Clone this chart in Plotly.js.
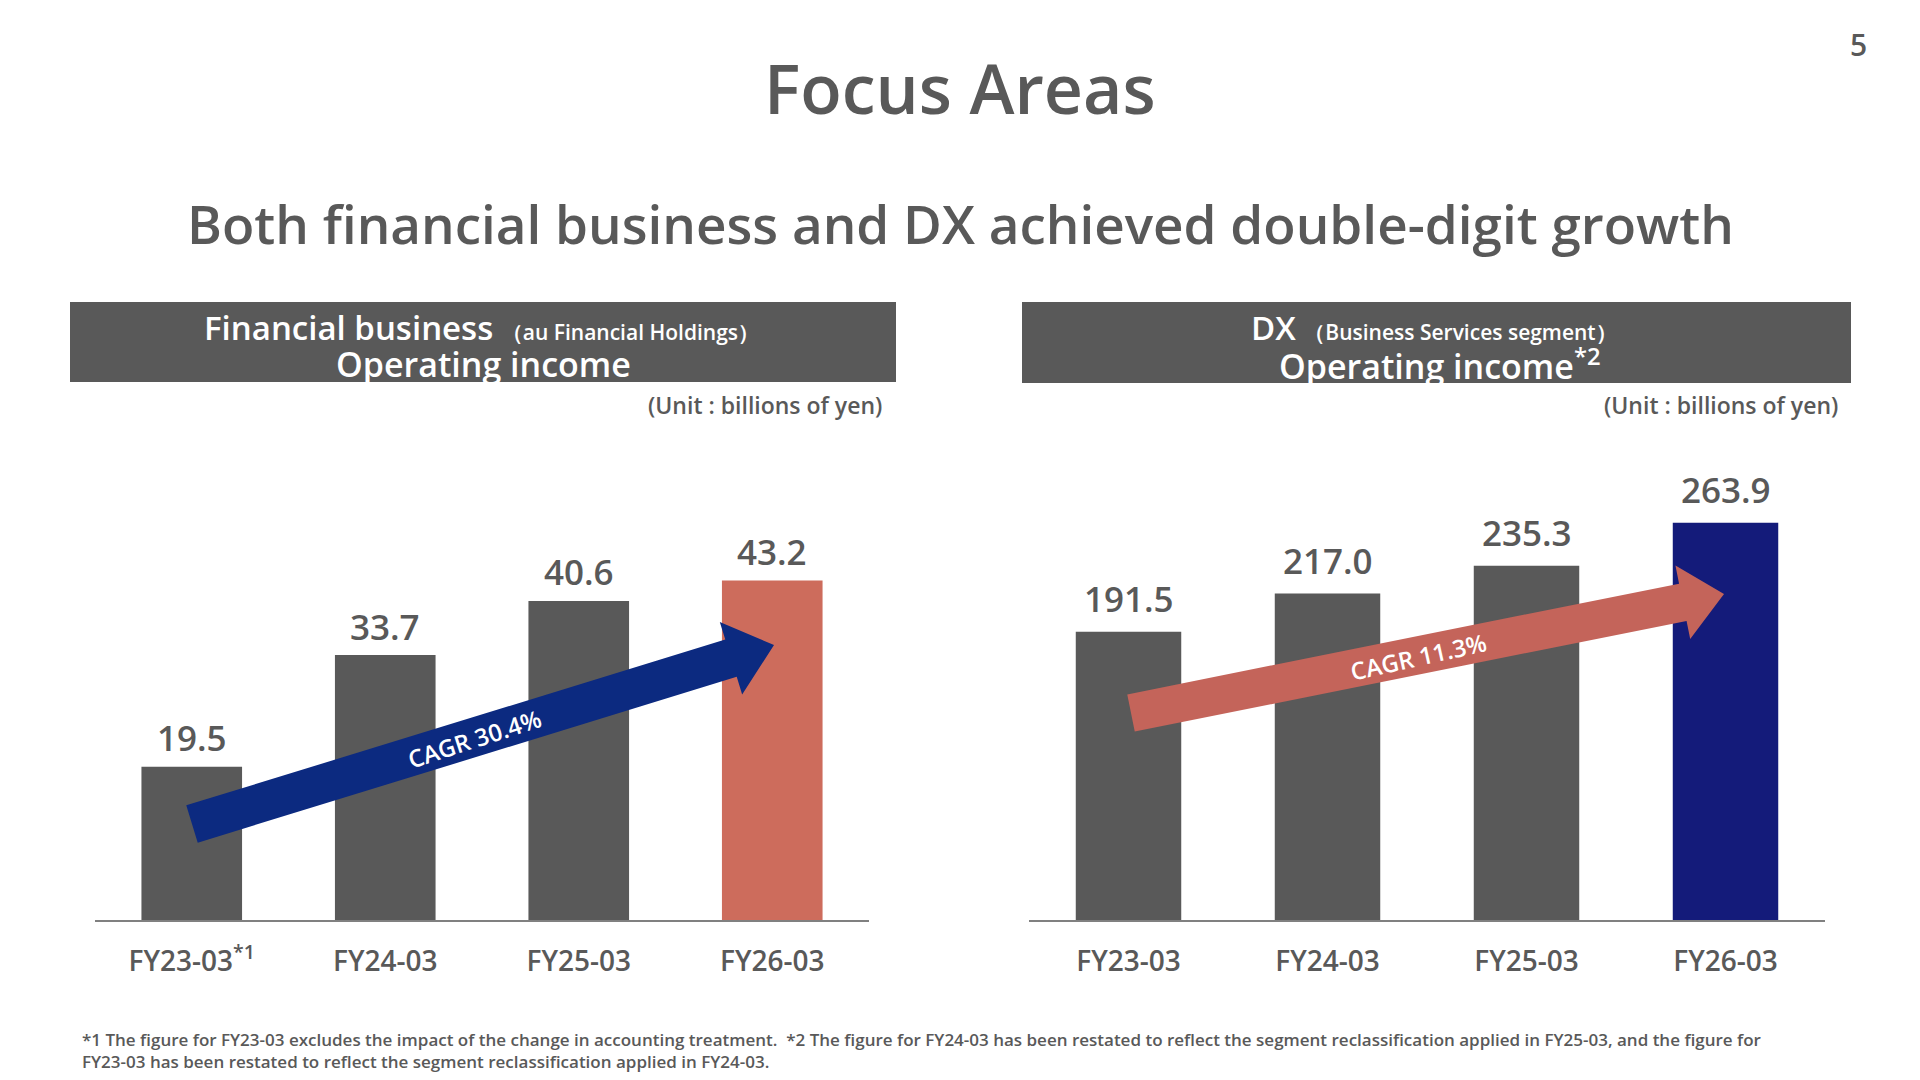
<!DOCTYPE html>
<html>
<head>
<meta charset="utf-8">
<script src="https://cdn.plot.ly/plotly-3.0.1.min.js"></script>
<style>html,body{margin:0;padding:0;background:#fff;}#chart{width:1920px;height:1080px;}</style>
</head>
<body>
<div id="chart"></div>
<script>
// ---- data ----
const categories = ['FY23-03', 'FY24-03', 'FY25-03', 'FY26-03'];
const finTickText = ['FY23-03<sup>*1</sup>', 'FY24-03', 'FY25-03', 'FY26-03'];
const dxTickText = ['FY23-03', 'FY24-03', 'FY25-03', 'FY26-03'];
const finValues = [19.5, 33.7, 40.6, 43.2];
const dxValues = [191.5, 217.0, 235.3, 263.9];
const finCagr = 'CAGR 30.4%';
const dxCagr = 'CAGR 11.3%';

// ---- styling ----
const W = 1920, H = 1080;
const GRAY = '#595959';
const FONT = 'Open Sans, Noto Sans, sans-serif';
const px = x => x / W;
const py = y => 1 - y / H;
const finColors = [GRAY, GRAY, GRAY, '#cd6c5c'];
const dxColors = [GRAY, GRAY, GRAY, '#141b7a'];

const ARROWS = [
  {tail: [192, 824], tip: [774, 645], w: 39, hw: 76, hl: 45, color: '#0c2a80',
   label: finCagr, lx: 474, ly: 738, angle: -18},
  {tail: [1131, 713], tip: [1724, 594], w: 38, hw: 75, hl: 42, color: '#c4645a',
   label: dxCagr, lx: 1418, ly: 656, angle: -12.5}
];

function arrowPath(a) {
  const [tx, ty] = a.tail, [sx, sy] = a.tip;
  const dx = sx - tx, dy = sy - ty, L = Math.hypot(dx, dy);
  const ux = dx / L, uy = dy / L, nx = -uy, ny = ux;
  const hx = sx - ux * a.hl, hy = sy - uy * a.hl;
  const pts = [
    [tx + nx * a.w / 2, ty + ny * a.w / 2],
    [hx + nx * a.w / 2, hy + ny * a.w / 2],
    [hx + nx * a.hw / 2, hy + ny * a.hw / 2],
    [sx, sy],
    [hx - nx * a.hw / 2, hy - ny * a.hw / 2],
    [hx - nx * a.w / 2, hy - ny * a.w / 2],
    [tx - nx * a.w / 2, ty - ny * a.w / 2]
  ];
  return 'M' + pts.map(p => px(p[0]).toFixed(5) + ',' + py(p[1]).toFixed(5)).join(' L') + ' Z';
}

const baseY = 920, topY = 380;
const yDomain = [py(baseY), py(topY)];

const traces = [
  {type: 'bar', x: categories, y: finValues, xaxis: 'x', yaxis: 'y',
   marker: {color: finColors}, width: 0.52, hoverinfo: 'skip'},
  {type: 'bar', x: categories, y: dxValues, xaxis: 'x2', yaxis: 'y2',
   marker: {color: dxColors}, width: 0.53, hoverinfo: 'skip'}
];

const xCommon = {
  type: 'category', range: [-0.5, 3.5], showline: true, linecolor: '#808080', linewidth: 2,
  ticks: '', showgrid: false, zeroline: false, tickvals: categories,
  tickfont: {family: FONT, size: 28, color: GRAY, weight: 600}, ticklabelstandoff: 15, fixedrange: true
};

const annotations = [
  {text: 'Focus Areas', x: 0.5, y: py(87), xref: 'paper', yref: 'paper', showarrow: false,
   xanchor: 'center', yanchor: 'middle', font: {family: FONT, size: 68, color: GRAY, weight: 600}},
  {text: '5', x: px(1858), y: py(45), xref: 'paper', yref: 'paper', showarrow: false,
   xanchor: 'center', yanchor: 'middle', font: {family: FONT, size: 30, color: GRAY, weight: 600}},
  {text: 'Both financial business and DX achieved double-digit growth', x: 0.5, y: py(224),
   xref: 'paper', yref: 'paper', showarrow: false, xanchor: 'center', yanchor: 'middle',
   font: {family: FONT, size: 53, color: GRAY, weight: 600}},
  {text: 'Financial business <span style="font-size:21px">（au Financial Holdings）</span>',
   x: px(481), y: py(327), xref: 'paper', yref: 'paper', showarrow: false, xanchor: 'center', yanchor: 'middle',
   font: {family: FONT, size: 33, color: '#ffffff', weight: 600}},
  {text: 'Operating income',
   x: px(483), y: py(364), xref: 'paper', yref: 'paper', showarrow: false, xanchor: 'center', yanchor: 'middle',
   font: {family: FONT, size: 34, color: '#ffffff', weight: 600}},
  {text: 'DX <span style="font-size:21px">（Business Services segment）</span>',
   x: px(1434), y: py(327), xref: 'paper', yref: 'paper', showarrow: false, xanchor: 'center', yanchor: 'middle',
   font: {family: FONT, size: 33, color: '#ffffff', weight: 600}},
  {text: 'Operating income<sup>*2</sup>',
   x: px(1440), y: py(364), xref: 'paper', yref: 'paper', showarrow: false, xanchor: 'center', yanchor: 'middle',
   font: {family: FONT, size: 34, color: '#ffffff', weight: 600}},
  {text: '(Unit : billions of yen)', x: px(884), y: py(405), xref: 'paper', yref: 'paper', showarrow: false,
   xanchor: 'right', yanchor: 'middle', font: {family: FONT, size: 23, color: GRAY, weight: 600}},
  {text: '(Unit : billions of yen)', x: px(1840), y: py(405), xref: 'paper', yref: 'paper', showarrow: false,
   xanchor: 'right', yanchor: 'middle', font: {family: FONT, size: 23, color: GRAY, weight: 600}},
  {text: '*1 The figure for FY23-03 excludes the impact of the change in accounting treatment.  *2 The figure for FY24-03 has been restated to reflect the segment reclassification applied in FY25-03, and the figure for<br>FY23-03 has been restated to reflect the segment reclassification applied in FY24-03.',
   x: px(80), y: py(1050), xref: 'paper', yref: 'paper', showarrow: false, xanchor: 'left', yanchor: 'middle',
   align: 'left', font: {family: FONT, size: 17, color: GRAY, weight: 600}}
];

// value labels above bars
categories.forEach((c, i) => {
  annotations.push({text: finValues[i].toFixed(1), x: c, y: finValues[i], xref: 'x', yref: 'y',
    showarrow: false, xanchor: 'center', yanchor: 'middle', yshift: 29,
    font: {family: FONT, size: 35, color: GRAY, weight: 600}});
  annotations.push({text: dxValues[i].toFixed(1), x: c, y: dxValues[i], xref: 'x2', yref: 'y2',
    showarrow: false, xanchor: 'center', yanchor: 'middle', yshift: 33,
    font: {family: FONT, size: 35, color: GRAY, weight: 600}});
});

const shapes = [
  {type: 'rect', xref: 'paper', yref: 'paper', x0: px(70), x1: px(896), y0: py(382), y1: py(302),
   fillcolor: GRAY, line: {width: 0}, layer: 'below'},
  {type: 'rect', xref: 'paper', yref: 'paper', x0: px(1022), x1: px(1851), y0: py(383), y1: py(302),
   fillcolor: GRAY, line: {width: 0}, layer: 'below'}
];

ARROWS.forEach(a => {
  shapes.push({type: 'path', xref: 'paper', yref: 'paper', path: arrowPath(a),
    fillcolor: a.color, line: {width: 0}, layer: 'above'});
  annotations.push({text: a.label, x: px(a.lx), y: py(a.ly), xref: 'paper', yref: 'paper',
    showarrow: false, xanchor: 'center', yanchor: 'middle', textangle: a.angle,
    font: {family: FONT, size: 24, color: '#ffffff', weight: 600}});
});

const layout = {
  width: W, height: H, margin: {l: 0, r: 0, t: 0, b: 0},
  paper_bgcolor: '#ffffff', plot_bgcolor: '#ffffff', showlegend: false,
  font: {family: FONT, color: GRAY},
  bargap: 0.48,
  xaxis: Object.assign({}, xCommon, {domain: [px(95), px(869)], anchor: 'y', ticktext: finTickText}),
  yaxis: {domain: yDomain, range: [0, (baseY - topY) / 7.86], visible: false, fixedrange: true},
  xaxis2: Object.assign({}, xCommon, {domain: [px(1029), px(1825)], anchor: 'y2', ticktext: dxTickText}),
  yaxis2: {domain: yDomain, range: [0, (baseY - topY) / 1.505], visible: false, fixedrange: true},
  annotations: annotations,
  shapes: shapes
};

Plotly.newPlot('chart', traces, layout, {displayModeBar: false, staticPlot: true});
</script>
</body>
</html>
